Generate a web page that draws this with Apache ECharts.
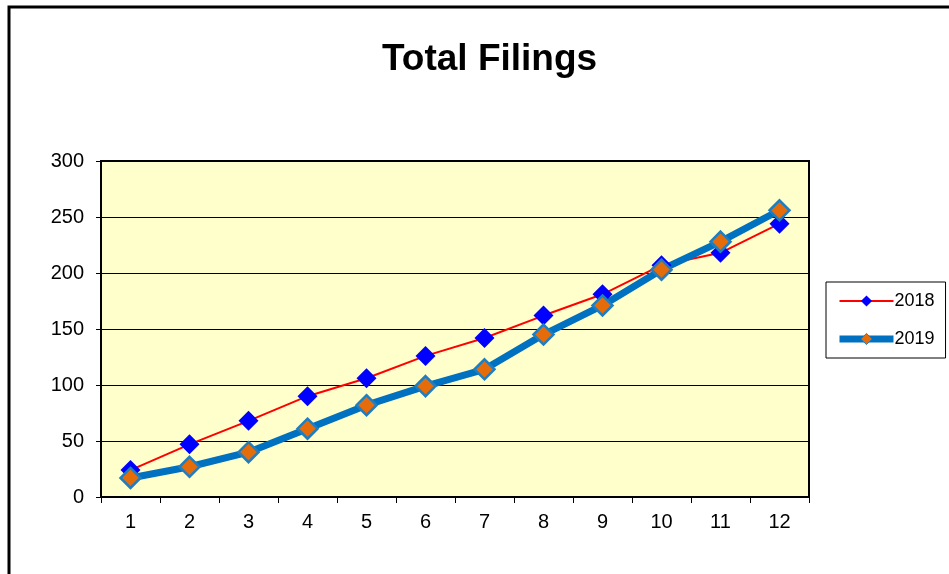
<!DOCTYPE html>
<html>
<head>
<meta charset="utf-8">
<script src="https://cdn.jsdelivr.net/npm/echarts@6/dist/echarts.min.js"></script>
<style>
html,body{margin:0;padding:0;background:#fff;}
#c{width:949px;height:574px;}
</style>
</head>
<body>
<div id="c"></div>
<script>
const categories = ['1','2','3','4','5','6','7','8','9','10','11','12'];
const s2018 = [24, 47, 68, 90, 106, 126, 142, 162, 181, 207, 218, 244];
const s2019 = [17, 27, 40, 61, 82, 99, 114, 145, 171, 203, 228, 256];
const yTicks = [0, 50, 100, 150, 200, 250, 300];

const chart = echarts.init(document.getElementById('c'), null, {renderer: 'canvas'});
const font = 'Liberation Sans, Arial, sans-serif';
chart.setOption({
  animation: false,
  backgroundColor: '#ffffff',
  title: {
    text: 'Total Filings',
    left: 382,
    top: 41,
    padding: 0,
    textStyle: {fontFamily: font, fontSize: 37, fontWeight: 'bold', color: '#000'}
  },
  graphic: [{
    type: 'rect',
    shape: {x: 9, y: 7, width: 1200, height: 1200},
    style: {fill: 'none', stroke: '#000', lineWidth: 3},
    silent: true,
    z: 100
  }],
  legend: {
    orient: 'vertical',
    left: 826,
    top: 282,
    padding: [10, 11, 10, 10],
    itemGap: 20,
    itemWidth: 54,
    itemHeight: 14,
    borderColor: '#000',
    borderWidth: 1,
    backgroundColor: '#fff',
    textStyle: {fontFamily: font, fontSize: 18, color: '#000', padding: [0, 0, 0, -4]},
    data: [
      {name: '2018', lineStyle: {color: '#FF0000', width: 2}, itemStyle: {color: '#0000FF'}},
      {name: '2019', lineStyle: {color: '#0070C0', width: 7}, itemStyle: {color: '#E46C0A', borderColor: '#1F7DC0', borderWidth: 1}}
    ]
  },
  grid: {
    show: true,
    left: 101,
    right: 140,
    top: 161,
    bottom: 77,
    backgroundColor: '#FFFFCC',
    borderColor: '#000',
    borderWidth: 2
  },
  xAxis: {
    type: 'category',
    data: categories,
    boundaryGap: true,
    axisLine: {lineStyle: {color: '#000', width: 2}},
    axisTick: {show: true, length: 6, lineStyle: {color: '#000', width: 1}},
    axisLabel: {fontFamily: font, fontSize: 20, color: '#000', margin: 15},
    splitLine: {show: false}
  },
  yAxis: {
    type: 'value',
    min: yTicks[0],
    max: yTicks[yTicks.length - 1],
    interval: 50,
    axisLine: {show: true, lineStyle: {color: '#000', width: 2}},
    axisTick: {show: true, length: 5, lineStyle: {color: '#000', width: 1}},
    axisLabel: {fontFamily: font, fontSize: 20, color: '#000', margin: 17},
    splitLine: {show: true, lineStyle: {color: '#000', width: 1}}
  },
  series: [
    {
      name: '2018',
      type: 'line',
      data: s2018,
      symbol: 'diamond',
      symbolSize: 20,
      lineStyle: {color: '#FF0000', width: 2},
      itemStyle: {color: '#0000FF', borderWidth: 0}
    },
    {
      name: '2019',
      type: 'line',
      data: s2019,
      symbol: 'diamond',
      symbolSize: 20,
      lineStyle: {color: '#0070C0', width: 7},
      itemStyle: {color: '#E46C0A', borderColor: '#1F7DC0', borderWidth: 2.5}
    }
  ]
});
</script>
</body>
</html>
